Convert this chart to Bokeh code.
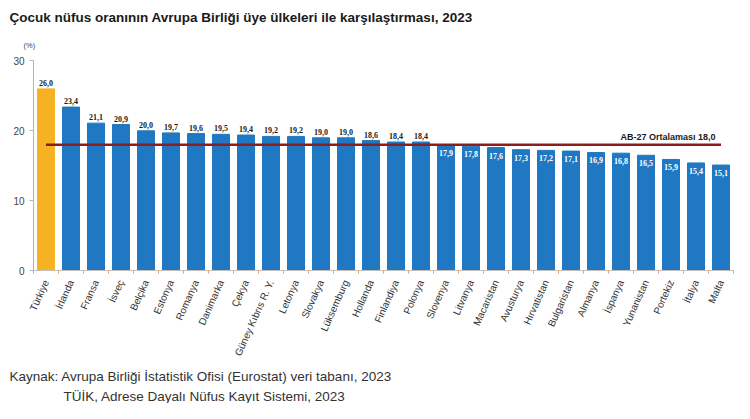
from bokeh.plotting import figure
from bokeh.models import (ColumnDataSource, LabelSet, Label, FixedTicker, Range1d, Title)
from bokeh.embed import file_html
from bokeh.resources import INLINE

# ---- data ----
countries = ["Türkiye", "İrlanda", "Fransa", "İsveç", "Belçika", "Estonya", "Romanya",
             "Danimarka", "Çekya", "Güney Kıbrıs R. Y.", "Letonya", "Slovakya",
             "Lüksemburg", "Hollanda", "Finlandiya", "Polonya", "Slovenya", "Litvanya",
             "Macaristan", "Avusturya", "Hırvatistan", "Bulgaristan", "Almanya",
             "İspanya", "Yunanistan", "Portekiz", "İtalya", "Malta"]
values = [26.0, 23.4, 21.1, 20.9, 20.0, 19.7, 19.6, 19.5, 19.4, 19.2, 19.2, 19.0,
          19.0, 18.6, 18.4, 18.4, 17.9, 17.8, 17.6, 17.3, 17.2, 17.1, 16.9, 16.8,
          16.5, 15.9, 15.4, 15.1]
eu_avg = 18.0
eu_avg_name = "AB-27 Ortalaması"
highlight = "Türkiye"
y_ticks = [0, 10, 20, 30]
unit = "(%)"
title = "Çocuk nüfus oranının Avrupa Birliği üye ülkeleri ile karşılaştırması, 2023"
source_lines = ["Kaynak: Avrupa Birliği İstatistik Ofisi (Eurostat) veri tabanı, 2023",
                "TÜİK, Adrese Dayalı Nüfus Kayıt Sistemi, 2023"]

BLUE = "#1f78c1"
ORANGE = "#f6b223"
FONT = "Liberation Sans"

def fmt(v):
    return f"{v:.1f}".replace(".", ",")

n = len(countries)
xs = list(range(n))
colors = [ORANGE if c == highlight else BLUE for c in countries]
src = ColumnDataSource(dict(x=xs, top=values, color=colors, name=countries))

above_idx = [i for i, v in enumerate(values) if v >= eu_avg]
inside_idx = [i for i, v in enumerate(values) if v < eu_avg]
src_above = ColumnDataSource(dict(x=[xs[i] for i in above_idx],
                                  y=[values[i] for i in above_idx],
                                  t=[fmt(values[i]) for i in above_idx]))
src_inside = ColumnDataSource(dict(x=[xs[i] for i in inside_idx],
                                   y=[values[i] for i in inside_idx],
                                   t=[fmt(values[i]) for i in inside_idx]))

p = figure(width=734, height=403, output_backend="svg", toolbar_location=None,
           x_range=Range1d(-0.5, n - 0.5), y_range=Range1d(0, 30.5),
           min_border_left=33, min_border_right=1, min_border_top=57,
           min_border_bottom=133)
p.outline_line_color = None
p.xgrid.visible = False
p.ygrid.visible = False

# unit label just above the frame (closest to frame)
p.add_layout(Title(text=unit, align="left", offset=-10, standoff=15,
                   text_font=FONT, text_font_size="7.5px", text_font_style="normal",
                   text_color="#444444"), "above")

p.title.text = title
p.title.text_font = FONT
p.title.text_font_size = "13.5px"
p.title.text_font_style = "bold"
p.title.text_color = "#1a1a1a"
p.title.align = "left"
p.title.offset = -24
p.title.standoff = 14

p.vbar(x="x", top="top", width=0.68, color="color", source=src)
p.segment(x0=[xs[0]], x1=[xs[-1]], y0=[eu_avg], y1=[eu_avg],
          line_color="#8c1d1d", line_width=2.5)

p.add_layout(LabelSet(x="x", y="y", text="t", source=src_above, text_align="center",
                      text_baseline="bottom", y_offset=3, text_font=FONT,
                      text_font_size="8px", text_font_style="bold",
                      text_color="#1a1a1a"))
p.add_layout(LabelSet(x="x", y="y", text="t", source=src_inside, text_align="center",
                      text_baseline="top", y_offset=-5, text_font=FONT,
                      text_font_size="8px", text_font_style="bold",
                      text_color="white"))
p.add_layout(Label(x=xs[-1], y=eu_avg, text=f"{eu_avg_name}  {fmt(eu_avg)}",
                   text_align="right", text_baseline="bottom", x_offset=-3, y_offset=3,
                   text_font=FONT, text_font_size="9px", text_font_style="bold",
                   text_color="#1a1a1a"))

# source lines below the axis
p.add_layout(Title(text=source_lines[0], align="left", offset=-24, standoff=9,
                   text_font=FONT, text_font_size="13.5px", text_font_style="normal",
                   text_color="#333333"), "below")
p.add_layout(Title(text=source_lines[1], align="left", offset=30, standoff=-4,
                   text_font=FONT, text_font_size="13.5px", text_font_style="normal",
                   text_color="#333333"), "below")

# y axis
p.yaxis.ticker = FixedTicker(ticks=y_ticks)
p.yaxis.bounds = (y_ticks[0], y_ticks[-1])
p.yaxis.axis_line_color = "#b5b5b5"
p.yaxis.major_tick_line_color = "#b5b5b5"
p.yaxis.major_tick_in = 0
p.yaxis.major_tick_out = 4
p.yaxis.minor_tick_line_color = None
p.yaxis.major_label_text_font = FONT
p.yaxis.major_label_text_font_size = "10px"
p.yaxis.major_label_text_color = "#444444"

# x axis
p.xaxis.ticker = FixedTicker(ticks=xs, minor_ticks=[i - 0.5 for i in range(n + 1)])
p.xaxis.major_label_overrides = {i: c for i, c in zip(xs, countries)}
p.xaxis.major_label_orientation = 1.15
p.xaxis.major_tick_line_color = None
p.xaxis.minor_tick_line_color = "#d2a48c"
p.xaxis.minor_tick_in = 0
p.xaxis.minor_tick_out = 3
p.xaxis.axis_line_color = "#c6c0ba"
p.xaxis.major_label_text_font = FONT
p.xaxis.major_label_text_font_size = "10px"
p.xaxis.major_label_text_color = "#333333"
p.xaxis.major_label_standoff = 4

open("out.html", "w").write(file_html(p, INLINE))
